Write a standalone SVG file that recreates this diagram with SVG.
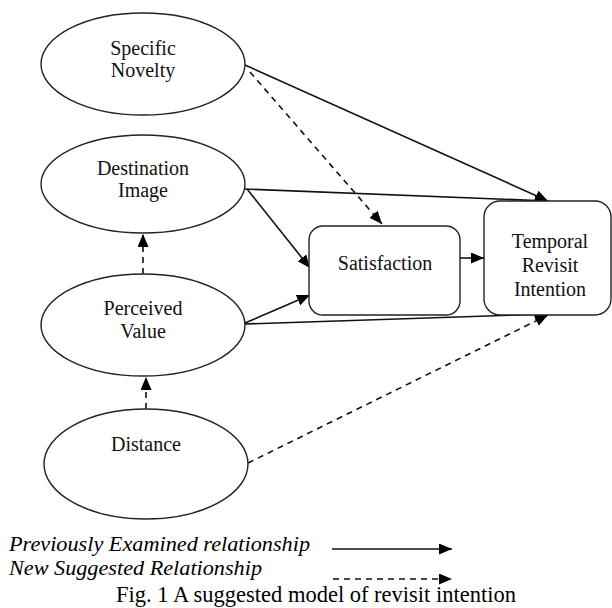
<svg xmlns="http://www.w3.org/2000/svg" width="612" height="608" viewBox="0 0 612 608">
<defs>
<marker id="ah" markerUnits="userSpaceOnUse" markerWidth="14" markerHeight="12" refX="13" refY="5.5" orient="auto">
<path d="M0,0 L13,5.5 L0,11 Z" fill="#000"/>
</marker>
<style>
.node{fill:#fff;stroke:#222;stroke-width:1.4}
.lbl{font-size:20px;fill:#111;text-anchor:middle}
.solid{fill:none;stroke:#111;stroke-width:1.6;marker-end:url(#ah)}
.dash{fill:none;stroke:#111;stroke-width:1.6;stroke-dasharray:6,5;marker-end:url(#ah)}
.leg{font-style:italic;font-size:21px;fill:#000}
.cap{font-size:22.5px;fill:#000;text-anchor:middle}
</style>
</defs>
<rect width="612" height="608" fill="#fff"/>
<g id="connectors">
<path class="solid" d="M245,65 L548,201"/>
<path class="solid" d="M245,189 L548,201"/>
<path class="dash" d="M250,72 L382,224"/>
<path class="solid" d="M247,189 L310,268"/>
<path class="solid" d="M245,323 L310,295"/>
<path class="solid" d="M245,324 L548,314"/>
<path class="dash" d="M248,463 L548,315"/>
<path class="solid" d="M460,258 L484,258"/>
<path class="dash" d="M143,274 L143,234"/>
<path class="dash" d="M146,409 L146,377"/>
</g>
<g font-family="'Liberation Serif', 'Times New Roman', serif">
<g id="specific-novelty">
<ellipse class="node" cx="143" cy="64" rx="102" ry="51"/>
<text class="lbl" x="143" y="55">Specific</text>
<text class="lbl" x="143" y="77">Novelty</text>
</g>
<g id="destination-image">
<ellipse class="node" cx="143" cy="184" rx="102" ry="49"/>
<text class="lbl" x="143" y="175">Destination</text>
<text class="lbl" x="143" y="197">Image</text>
</g>
<g id="perceived-value">
<ellipse class="node" cx="143" cy="325" rx="102" ry="51"/>
<text class="lbl" x="143" y="315">Perceived</text>
<text class="lbl" x="143" y="338">Value</text>
</g>
<g id="distance">
<ellipse class="node" cx="146" cy="464" rx="102" ry="55"/>
<text class="lbl" x="146" y="451">Distance</text>
</g>
<g id="satisfaction">
<rect class="node" x="309" y="226" width="151" height="89" rx="14"/>
<text class="lbl" x="385" y="270">Satisfaction</text>
</g>
<g id="temporal-revisit-intention">
<rect class="node" x="484" y="201" width="127" height="114" rx="16"/>
<text class="lbl" x="550" y="248">Temporal</text>
<text class="lbl" x="550" y="272">Revisit</text>
<text class="lbl" x="550" y="296">Intention</text>
</g>
<g id="legend">
<text class="leg" x="9" y="551" textLength="301" lengthAdjust="spacingAndGlyphs">Previously Examined relationship</text>
<text class="leg" x="9" y="575" textLength="253" lengthAdjust="spacingAndGlyphs">New Suggested Relationship</text>
<path class="solid" d="M332,549 L452,549"/>
<path class="dash" d="M333,579 L452,579"/>
<text class="cap" x="316" y="602">Fig. 1 A suggested model of revisit intention</text>
</g>
</g>
</svg>
